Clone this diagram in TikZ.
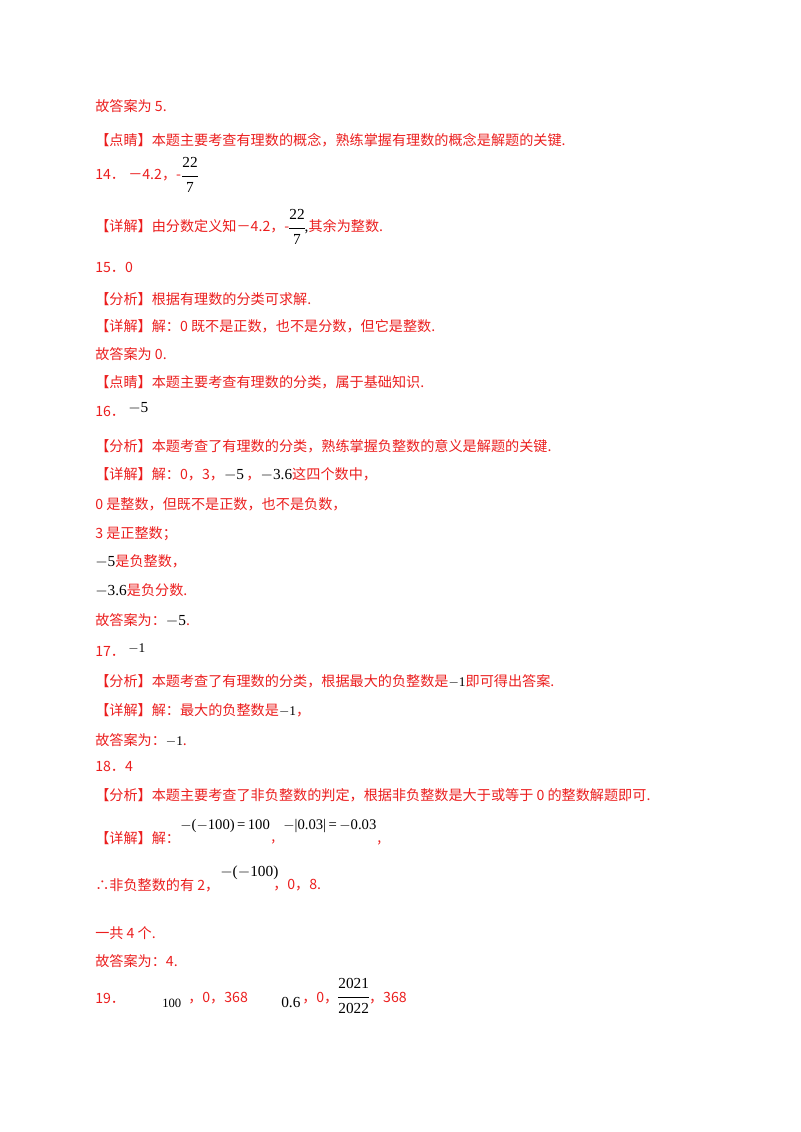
\documentclass[tikz,border=0pt]{standalone}
\usepackage{fontspec}
\setmainfont{Noto Sans CJK SC}
\newfontfamily\mth{Liberation Serif}
\definecolor{rd}{RGB}{235,30,30}
\newcommand{\M}[1]{{\color{black}\mth\fontsize{11.5}{12}\selectfont #1}}
\newcommand{\Fr}[2]{\tikz[baseline=-3.2pt]{\node[inner sep=0pt,font=\mth\fontsize{11.5}{12}\selectfont,text=black] (n) {\begin{tabular}{@{}c@{}}#1\\[3pt]\hline\rule{0pt}{12pt}#2\end{tabular}};}}
\begin{document}
\begin{tikzpicture}[x=0.75pt,y=-0.75pt,
  ln/.style={anchor=west,inner sep=0pt,text=rd,font=\fontsize{10.6}{12}\selectfont}]
\useasboundingbox (0,0) rectangle (800,1132);
\node[ln] (a1) at (95,106) {故答案为 5.};
\node[ln] (a2) at (95,140) {【点睛】本题主要考查有理数的概念，熟练掌握有理数的概念是解题的关键.};
\node[ln] (a3) at (95,177) {14．\ －4.2，-\hspace{1pt}\raisebox{-1pt}{\Fr{22}{7}}};
\node[ln] (a4) at (95,229) {【详解】由分数定义知－4.2，-\raisebox{-1pt}{\Fr{22}{7}}\M{,}其余为整数.};
\node[ln] (a5) at (95,267) {15．0};
\node[ln] (a6) at (95,299) {【分析】根据有理数的分类可求解.};
\node[ln] (a7) at (95,326) {【详解】解：0 既不是正数，也不是分数，但它是整数.};
\node[ln] (a8) at (95,354) {故答案为 0.};
\node[ln] (a9) at (95,382) {【点睛】本题主要考查有理数的分类，属于基础知识.};
\node[ln] (a10) at (95,410) {16．\ \raisebox{3pt}{\M{$-$5}}};
\node[ln] (a11) at (95,446) {【分析】本题考查了有理数的分类，熟练掌握负整数的意义是解题的关键.};
\node[ln] (a12) at (95,474) {【详解】解：0，3，\M{$-$5}\,，\M{$-$3.6}这四个数中，};
\node[ln] (a13) at (95,504) {0 是整数，但既不是正数，也不是负数，};
\node[ln] (a14) at (95,534) {3 是正整数；};
\node[ln] (a15) at (95,561) {\M{$-$5}是负整数，};
\node[ln] (a16) at (95,590) {\M{$-$3.6}是负分数.};
\node[ln] (a17) at (95,620) {故答案为：\M{$-$5}.};
\node[ln] (a18) at (95,650) {17．\ \raisebox{3pt}{\M{\fontsize{10}{12}\selectfont$-$1}}};
\node[ln] (a19) at (95,681) {【分析】本题考查了有理数的分类，根据最大的负整数是\M{\fontsize{10}{12}\selectfont$-$1}即可得出答案.};
\node[ln] (a20) at (95,710) {【详解】解：最大的负整数是\M{\fontsize{10}{12}\selectfont$-$1}，};
\node[ln] (a21) at (95,740) {故答案为：\M{\fontsize{10}{12}\selectfont$-$1}.};
\node[ln] (a22) at (95,766) {18．4};
\node[ln] (a23) at (95,795) {【分析】本题主要考查了非负整数的判定，根据非负整数是大于或等于 0 的整数解题即可.};
\node[ln] (a24) at (95,838) {【详解】解：};
\node[inner sep=0pt,anchor=west] (m1) at (180,826) {\M{\fontsize{11}{12}\selectfont$-$($-$100)\,=\,100}};
\node[ln] (c1) at (271,842) {,};
\node[inner sep=0pt,anchor=west] (m2) at (283,826) {\M{\fontsize{11}{12}\selectfont$-$|0.03|\,=\,$-$0.03}};
\node[ln] (c2) at (377,843) {,};
\node[ln] (a25) at (95,885) {∴非负整数的有 2，};
\node[inner sep=0pt,anchor=west] (m3) at (220,873) {\M{$-$($-$100)}};
\node[ln] (a26) at (273,885) {，0，8.};
\node[ln] (a27) at (95,933) {一共 4 个.};
\node[ln] (a28) at (95,961) {故答案为：4.};
\node[ln] (a29) at (95,998) {19．};
\node[inner sep=0pt,anchor=west] (m4) at (162,1003) {\M{\fontsize{9.5}{10}\selectfont 100}};
\node[ln] (a30) at (188,998) {，0，368};
\node[inner sep=0pt,anchor=west] (m5) at (281,1002) {\M{0.6}};
\node[ln] (a31) at (302,998) {，0，\Fr{2021}{2022}，368};
\end{tikzpicture}
\end{document}
